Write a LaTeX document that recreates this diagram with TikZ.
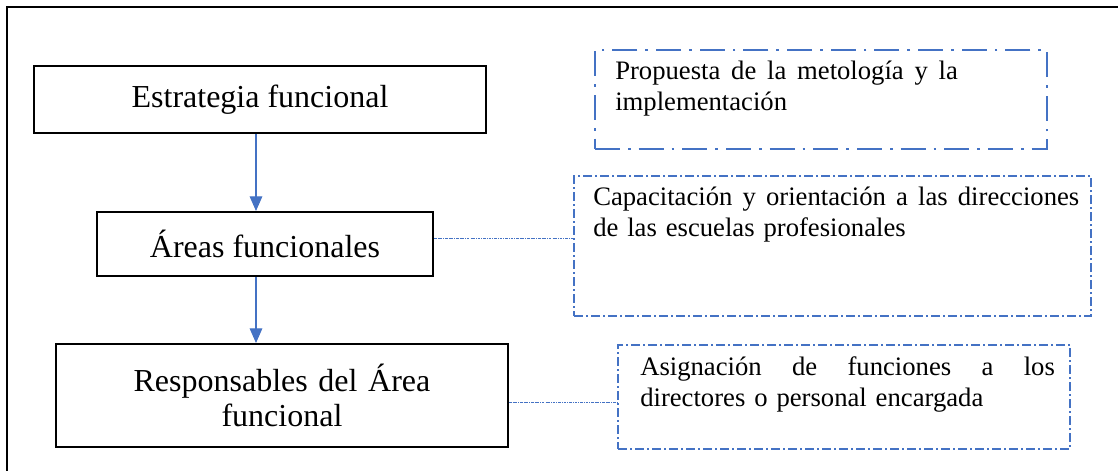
\documentclass[tikz,border=0pt]{standalone}
\usepackage{fontspec}
\setmainfont{Liberation Serif}
\usetikzlibrary{arrows.meta,positioning}
\definecolor{wordblue}{HTML}{4472C4}

\begin{document}
\begin{tikzpicture}[x=0.75pt,y=-0.75pt,
  mainbox/.style={draw,line width=1.5pt,inner sep=0pt,align=center,font=\fontsize{24}{26.25}\selectfont},
  notebox/.style={draw=wordblue,line width=1.5pt,inner sep=0pt,anchor=north west,dash pattern=on 6.75pt off 2.25pt on 1.5pt off 2.25pt},
  notetext/.style={inner sep=0pt,align=left,font=\fontsize{20}{23.25}\selectfont},
  flow/.style={draw=wordblue,line width=0.8pt,-{Triangle[width=9.5pt,length=11pt]}},
  link/.style={draw=wordblue,line width=0.5pt,dash pattern=on 2pt off 0.8pt on 0.5pt off 0.8pt}]

\useasboundingbox (0,0) rectangle (1118,471);

\draw[line width=1.1pt] (7,471) -- (7,7) -- (1118,7);

\node[mainbox,minimum width=339pt,minimum height=50.25pt] (estr) at (260,99.5) {Estrategia funcional};

\node[mainbox,minimum width=252pt,minimum height=48pt] (areas) at (265,244) {Áreas funcionales};

\node[mainbox,minimum width=339pt,minimum height=77.25pt,text width=225pt] (resp) at (282,395.5) {Responsables del Área\\funcional};

\coordinate (axis) at (256,0);

\draw[flow] (estr.south -| axis) -- (areas.north -| axis);

\draw[flow] (areas.south -| axis) -- (resp.north -| axis);

\node[notebox,dash pattern=on 18.75pt off 6pt on 2pt off 6pt,minimum width=339pt,minimum height=74.25pt] (prop) at (594,49) {};
\node[notetext,text width=257pt,below right=9pt and 15.75pt of prop.north west] (propt) {Propuesta\hfill de\hfill la\hfill metología\hfill y\hfill la\\implementación};

\node[notebox,minimum width=387.75pt,minimum height=105pt] (capa) at (573,175) {};
\node[notetext,text width=364.5pt,below right=9pt and 15pt of capa.north west] (capat) {Capacitación\hfill y\hfill orientación\hfill a\hfill las\hfill direcciones\\de las escuelas profesionales};

\node[notebox,minimum width=339pt,minimum height=78pt] (asig) at (617,344) {};
\node[notetext,text width=311pt,below right=9pt and 17.25pt of asig.north west] (asigt) {Asignación\hfill de\hfill funciones\hfill a\hfill los\\directores o personal encargada};

\draw[link] ([yshift=4.5pt]areas.east) -- ([yshift=4.5pt]areas.east -| capa.west);

\draw[link] ([yshift=-4.875pt]resp.east) -- ([yshift=-4.875pt]resp.east -| asig.west);
\end{tikzpicture}
\end{document}
